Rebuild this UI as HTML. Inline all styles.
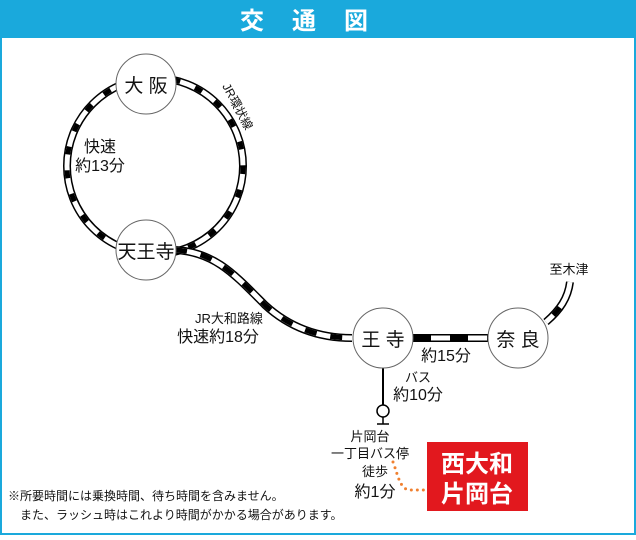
<!DOCTYPE html>
<html><head><meta charset="utf-8"><style>
body{margin:0;width:636px;height:535px;overflow:hidden;background:#fff}
svg text{font-family:"Liberation Sans","Noto Sans CJK JP",sans-serif;fill:#111}
</style></head><body>
<svg width="636" height="535" viewBox="0 0 636 535" xmlns="http://www.w3.org/2000/svg">
<rect x="0" y="0" width="636" height="535" fill="#1aa9dc"/>
<rect x="2" y="38" width="632" height="495" fill="#fff"/>
<text x="318" y="29" font-size="24" font-weight="bold" fill="#fff" style="fill:#fff" text-anchor="middle" letter-spacing="28">交通図</text>
<g fill="none">
<circle cx="155" cy="166" r="88" stroke="#000" stroke-width="8"/>
<circle cx="155" cy="166" r="88" stroke="#fff" stroke-width="5"/>
<circle cx="155" cy="166" r="88" stroke="#000" stroke-width="5" stroke-dasharray="8 16"/>
<path d="M175 250 C215 252 235 275 265 305 C290 328 320 338 352 338" stroke="#000" stroke-width="8"/>
<path d="M175 250 C215 252 235 275 265 305 C290 328 320 338 352 338" stroke="#fff" stroke-width="5"/>
<path d="M175 250 C215 252 235 275 265 305 C290 328 320 338 352 338" stroke="#000" stroke-width="5" stroke-dasharray="12 14"/>
<path d="M413 338 L488 338" stroke="#000" stroke-width="8"/>
<path d="M413 338 L488 338" stroke="#fff" stroke-width="5"/>
<path d="M413 338 L488 338" stroke="#000" stroke-width="5" stroke-dasharray="18 19"/>
<path d="M546 322 C560 310 568 298 570 282" stroke="#000" stroke-width="8"/>
<path d="M546 322 C560 310 568 298 570 282" stroke="#fff" stroke-width="5"/>
<path d="M546 322 C560 310 568 298 570 282" stroke="#000" stroke-width="5" stroke-dasharray="0 10 10 30"/>
<line x1="383" y1="368" x2="383" y2="405" stroke="#000" stroke-width="2"/>
<circle cx="383" cy="411" r="6" stroke="#000" stroke-width="1.5"/>
<line x1="383" y1="417" x2="383" y2="424" stroke="#000" stroke-width="1.5"/>
<line x1="377" y1="424" x2="389" y2="424" stroke="#000" stroke-width="1.5"/>
<path d="M393 462 C398 475 400 490 410 490 L424 490" stroke="#f08030" stroke-width="3" stroke-dasharray="0 6" stroke-linecap="round"/>
</g>
<g fill="#fff" stroke="#666" stroke-width="1">
<circle cx="146" cy="84" r="30"/>
<circle cx="146" cy="250" r="30"/>
<circle cx="383" cy="338" r="30"/>
<circle cx="518" cy="338" r="30"/>
</g>
<text x="146" y="92" font-size="19" text-anchor="middle">大 阪</text>
<text x="146" y="258" font-size="19" text-anchor="middle">天王寺</text>
<text x="383" y="346" font-size="19" text-anchor="middle">王 寺</text>
<text x="518" y="346" font-size="19" text-anchor="middle">奈 良</text>
<text x="222" y="86" font-size="12" transform="rotate(62 222 86)">JR環状線</text>
<text x="100" y="152" font-size="16" text-anchor="middle">快速</text>
<text x="100" y="171" font-size="16" text-anchor="middle">約13分</text>
<text x="229" y="323" font-size="13" text-anchor="middle">JR大和路線</text>
<text x="218" y="342" font-size="16" text-anchor="middle">快速約18分</text>
<text x="446" y="361" font-size="16" text-anchor="middle">約15分</text>
<text x="418" y="382" font-size="13" text-anchor="middle">バス</text>
<text x="418" y="400" font-size="16" text-anchor="middle">約10分</text>
<text x="569" y="274" font-size="13" text-anchor="middle">至木津</text>
<text x="370" y="441" font-size="13" text-anchor="middle">片岡台</text>
<text x="370" y="458" font-size="13" text-anchor="middle">一丁目バス停</text>
<text x="375" y="476" font-size="13" text-anchor="middle">徒歩</text>
<text x="375" y="497" font-size="16" text-anchor="middle">約1分</text>
<rect x="427" y="442" width="101" height="69" fill="#e2181e"/>
<text x="477" y="472" font-size="24" font-weight="bold" text-anchor="middle" style="fill:#fff">西大和</text>
<text x="477" y="502" font-size="24" font-weight="bold" text-anchor="middle" style="fill:#fff">片岡台</text>
<text x="8" y="500" font-size="12">※所要時間には乗換時間、待ち時間を含みません。</text>
<text x="20" y="519" font-size="12">また、ラッシュ時はこれより時間がかかる場合があります。</text>
</svg>
</body></html>
